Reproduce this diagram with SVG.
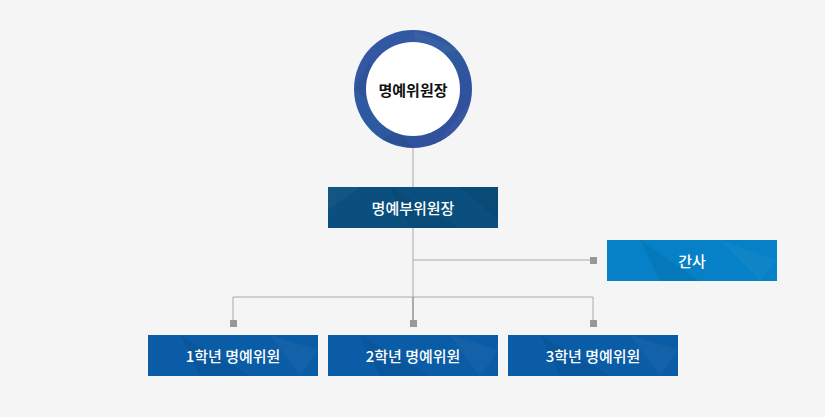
<svg xmlns="http://www.w3.org/2000/svg" width="825" height="417" viewBox="0 0 825 417">
<defs>
<style>
.lbl{font-family:"Noto Sans CJK KR","Noto Sans",sans-serif;font-size:15px;fill:#fff;text-anchor:middle;dominant-baseline:central;font-weight:500}
.ln{stroke:#aaaaaa;stroke-width:1;fill:none}
.sq{fill:#999999}
.facet{fill:#ffffff;opacity:0.04}
.facetd{fill:#000000;opacity:0.06}
</style>
<linearGradient id="ring" x1="0" y1="0" x2="1" y2="1">
<stop offset="0" stop-color="#3756a6"/>
<stop offset="0.5" stop-color="#2c5a9f"/>
<stop offset="1" stop-color="#334a9c"/>
</linearGradient>
</defs>
<rect width="825" height="417" fill="#f5f5f5"/>
<g id="connectors">
<line class="ln" x1="413" y1="148" x2="413" y2="320"/>
<line class="ln" x1="413" y1="260" x2="591" y2="260"/>
<polyline class="ln" points="233,320 233,297 593,297 593,320"/>
<line x1="413" y1="297" x2="413" y2="320" stroke="#888888" stroke-width="1"/>
<rect class="sq" x="590" y="257" width="7" height="7"/>
<rect class="sq" x="230" y="320" width="7" height="7"/>
<rect class="sq" x="410" y="320" width="7" height="7"/>
<rect class="sq" x="590" y="320" width="7" height="7"/>
</g>
<g id="chair">
<circle cx="413" cy="89" r="59" fill="url(#ring)"/>
<polygon class="facet" points="413,30 460,50 420,60"/>
<polygon class="facetd" points="354,89 370,60 380,110"/>
<polygon class="facet" points="440,140 472,100 460,130"/>
<polygon class="facetd" points="380,140 413,148 400,130"/>
<circle cx="413" cy="89" r="47" fill="#ffffff"/>
<text x="413" y="89" font-family="'Noto Sans CJK KR','Noto Sans',sans-serif" font-size="15" font-weight="700" fill="#111111" text-anchor="middle" dominant-baseline="central">명예위원장</text>
</g>
<g id="vice">
<rect x="328" y="187" width="170" height="41" fill="#0a4f7e"/>
<polygon class="facetd" points="390,187 460,228 410,228"/>
<polygon class="facet" points="328,187 360,187 328,210"/>
<polygon class="facetd" points="460,187 498,187 498,220"/>
<text class="lbl" x="413" y="207.5">명예부위원장</text>
</g>
<g id="secretary">
<rect x="607" y="240" width="170" height="41" fill="#0680c6"/>
<polygon class="facetd" points="640,240 700,281 660,281"/>
<polygon class="facet" points="720,240 777,260 760,281"/>
<text class="lbl" x="692" y="260.5">간사</text>
</g>
<g id="grade1">
<rect x="148" y="335" width="170" height="41" fill="#0a5ca6"/>
<polygon class="facetd" points="180,335 250,376 200,376"/>
<polygon class="facet" points="270,335 318,350 300,376"/>
<text class="lbl" x="233" y="355.5">1학년 명예위원</text>
</g>
<g id="grade2">
<rect x="328" y="335" width="170" height="41" fill="#0a5ca6"/>
<polygon class="facetd" points="360,335 430,376 380,376"/>
<polygon class="facet" points="450,335 498,350 480,376"/>
<text class="lbl" x="413" y="355.5">2학년 명예위원</text>
</g>
<g id="grade3">
<rect x="508" y="335" width="170" height="41" fill="#0a5ca6"/>
<polygon class="facetd" points="540,335 610,376 560,376"/>
<polygon class="facet" points="630,335 678,350 660,376"/>
<text class="lbl" x="593" y="355.5">3학년 명예위원</text>
</g>
</svg>
